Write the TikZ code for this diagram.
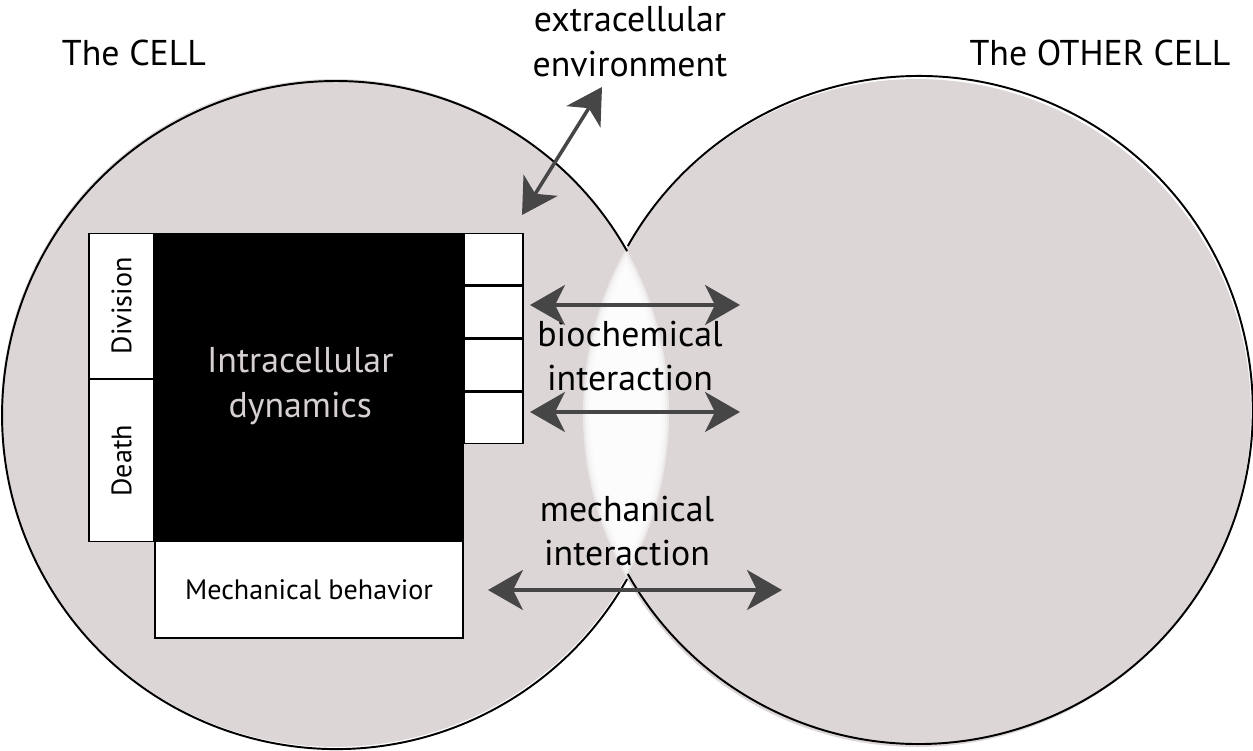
\documentclass[tikz,border=0pt]{standalone}
\usepackage{fontspec}
\setmainfont{PT Sans}
\usetikzlibrary{positioning, arrows.meta}

\definecolor{cellgray}{RGB}{220,214,214}
\definecolor{arrowgray}{RGB}{70,70,70}
\definecolor{coretext}{RGB}{214,208,208}

\begin{document}
\begin{tikzpicture}[
x=0.02cm, y=0.02cm,
cell/.style={circle, fill=cellgray, minimum size=13.36cm, inner sep=0pt, outer sep=0pt},
outline/.style={line width=1.1pt},
corebox/.style={rectangle, draw, fill=black, text=coretext, align=center, minimum width=6.16cm, minimum height=6.14cm, font=\fontsize{20.4}{25.5}\selectfont},
sidebox/.style={rectangle, draw, fill=white, line width=0.8pt, minimum width=1.3cm, inner sep=0pt, font=\fontsize{16}{19}\selectfont},
recbox/.style={rectangle, draw, fill=white, line width=0.8pt, minimum width=1.18cm, minimum height=1.03cm, inner sep=0pt},
mechbox/.style={rectangle, draw, fill=white, line width=0.8pt, minimum width=6.16cm, minimum height=1.94cm, font=\fontsize{16}{19}\selectfont},
txt/.style={align=center, font=\fontsize{20.4}{25.5}\selectfont},
arrow/.style={{Stealth[length=7mm, width=8mm, inset=2mm]}-{Stealth[length=7mm, width=8mm, inset=2mm]}, line width=2pt, draw=arrowgray, fill=arrowgray}
]
\useasboundingbox (0,0) rectangle (1253,750);

% the two cells
\node[cell] (cell_left) at (335,337) {};
\node[cell] (cell_right) at (917,337) {};

% contact zone
\foreach \d in {0,2,...,8} {
  \begin{scope}
    \clip (cell_left.center) circle[radius=334-\d];
    \fill[white, fill opacity=0.45] (cell_right.center) circle[radius=334-\d];
  \end{scope}
}

\draw[outline] (cell_left.29.4) arc[start angle=29.4, end angle=330.6, radius=334];
\draw[outline] (cell_right.150.6) arc[start angle=150.6, end angle=-150.6, radius=334];

% inside the cell
\node[corebox] (cell_core) at (309,363.5) {\hspace*{-10pt}Intracellular\\\hspace*{-10pt}dynamics};
\node[sidebox, minimum height=2.9cm, anchor=north east] (cell_div) at (cell_core.north west) {\rotatebox{90}{Division}};
\node[sidebox, minimum height=3.24cm, below=0pt of cell_div] (cell_death) {\rotatebox{90}{Death}};
\node[recbox, anchor=north west] (rec_a) at (cell_core.north east) {};
\node[recbox, below=0pt of rec_a] (rec_b) {};
\node[recbox, below=0pt of rec_b] (rec_c) {};
\node[recbox, below=0pt of rec_c] (rec_d) {};
\node[mechbox, anchor=north] (cell_mech) at (cell_core.south) {Mechanical behavior};

% labels
\node[txt] (lbl_cell) at (134,697) {The CELL};
\node[txt] (lbl_other) at (1100,697) {The OTHER CELL};
\node[txt] (lbl_env) at (630,708) {extracellular\\environment};
\node[txt] (lbl_bio) at (630,394) {biochemical\\interaction};
\node[txt] (lbl_mech) at (627,219) {mechanical\\interaction};

% arrow ends
\coordinate (env_in) at (522,535);
\coordinate (env_out) at (602,663);
\coordinate (bio_a_l) at (530,445);
\coordinate (bio_a_r) at (740,445);
\coordinate (bio_b_l) at (530,338);
\coordinate (bio_b_r) at (740,338);
\coordinate (mech_l) at (488,160);
\coordinate (mech_r) at (782,160);

\draw[arrow] (env_in) -- (env_out);
\draw[arrow] (bio_a_l) -- (bio_a_r);
\draw[arrow] (bio_b_l) -- (bio_b_r);
\draw[arrow] (mech_l) -- (mech_r);

\end{tikzpicture}
\end{document}
